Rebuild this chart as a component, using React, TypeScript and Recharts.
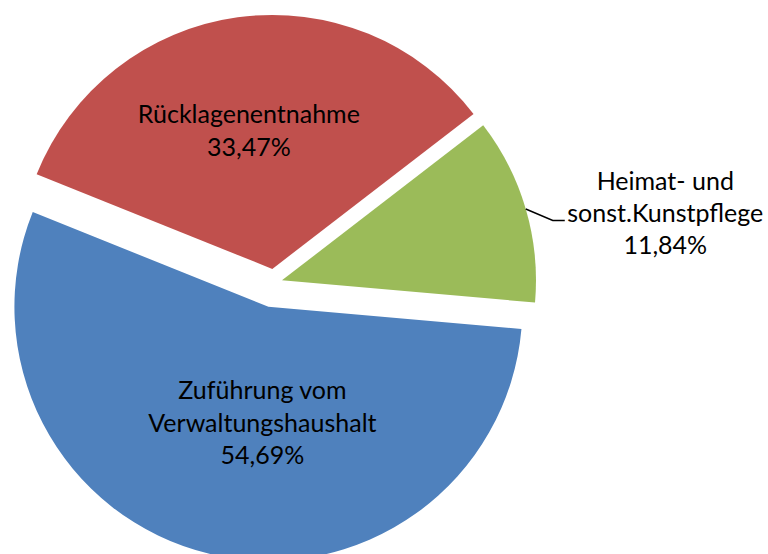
import React from 'react';
import { PieChart, Pie, Cell, Sector, Tooltip } from 'recharts';

// Kategorien, Zeilenumbrüche der Beschriftung und Anteile in %
const categories = [
    'Zuführung vom Verwaltungshaushalt',
    'Heimat- und sonst.Kunstpflege',
    'Rücklagenentnahme'
];
const labelLines = [
    ['Zuführung vom', 'Verwaltungshaushalt'],
    ['Heimat- und', 'sonst.Kunstpflege'],
    ['Rücklagenentnahme']
];
const shares = [54.69, 11.84, 33.47];

// styles
const COLORS = ['#4F81BD', '#9BBB59', '#C0504D'];
const EXPLODE = [24.85, 8.1, 13.8];
const LABEL_PLACE = [{ r: 125, nudge: 10.7 }, null, { r: 131.6, nudge: 2.4 }];
const FONT = 'Lato, "Open Sans", sans-serif';
const FONT_SIZE = 25;
const LINE_H = 32.4;

const data = categories.map((name, i) => ({ name, value: shares[i], lines: labelLines[i] }));

const polar = (cx: number, cy: number, r: number, angle: number) => {
    const rad = (-angle * Math.PI) / 180;
    return [cx + r * Math.cos(rad), cy + r * Math.sin(rad)];
};

const fmt = (v: number) => v.toFixed(2).replace('.', ',') + '%';

const ExplodedSector = (props: any) => {
    const i = categories.indexOf(props.name);
    const [x, y] = polar(props.cx, props.cy, EXPLODE[i] ?? 0, props.midAngle);
    return <Sector {...props} cx={x} cy={y} />;
};

const renderLabel = (props: any) => {
    const { cx, cy, midAngle, outerRadius, name, value } = props;
    const i = categories.indexOf(name);
    const [sx, sy] = polar(cx, cy, EXPLODE[i], midAngle);
    const lines = [...labelLines[i], fmt(value)];
    const place = LABEL_PLACE[i];

    if (place) {
        const [tx, ty] = polar(sx, sy, place.r, midAngle + place.nudge);
        return (
            <text x={tx} y={ty} textAnchor="middle" fontFamily={FONT} fontSize={FONT_SIZE} fill="#000">
                {lines.map((l, k) => (
                    <tspan key={k} x={tx} y={ty + (k - (lines.length - 1) / 2) * LINE_H}>{l}</tspan>
                ))}
            </text>
        );
    }

    // outside label with leader line
    const [ax, ay] = polar(sx, sy, outerRadius, midAngle);
    const ex = ax + 27, ey = ay + 11.5;
    const hx = ex + 12;
    const tx = hx + 100.5;
    const ty = ey + 1.5;
    return (
        <g>
            <path d={`M${ax},${ay}L${ex},${ey}L${hx},${ey}`} stroke="#000" strokeWidth={1.5} fill="none" />
            <text x={tx} y={ty} textAnchor="middle" fontFamily={FONT} fontSize={FONT_SIZE} fill="#000">
                {lines.map((l, k) => (
                    <tspan key={k} x={tx} y={ty + (k - (lines.length - 1) / 2) * LINE_H}>{l}</tspan>
                ))}
            </text>
        </g>
    );
};

export default function App() {
    return (
        <div style={{ position: 'absolute', left: 0, top: 0, width: 768, height: 554, background: '#fff' }}>
            <PieChart width={768} height={554} margin={{ top: 0, right: 0, bottom: 0, left: 0 }}>
                <Tooltip defaultIndex={0} content={() => null} cursor={false} />
                <Pie
                    data={data}
                    dataKey="value"
                    nameKey="name"
                    cx={274.2}
                    cy={282.6}
                    outerRadius={254}
                    startAngle={158.1}
                    endAngle={518.1}
                    stroke="none"
                    isAnimationActive={false}
                    shape={ExplodedSector}
                    activeShape={ExplodedSector}
                    inactiveShape={ExplodedSector}
                    label={renderLabel}
                    labelLine={false}
                >
                    {data.map((d, i) => (
                        <Cell key={d.name} fill={COLORS[i]} />
                    ))}
                </Pie>
            </PieChart>
        </div>
    );
}
